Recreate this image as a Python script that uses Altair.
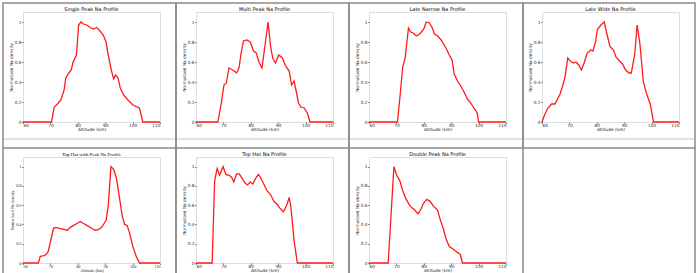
import altair as alt
import pandas as pd

titles = ["Single Peak Na Profile", "Multi Peak Na Profile", "Late Narrow Na Profile",
          "Late Wide Na Profile", "Top Hat with Peak Na Profile", "Top Hat Na Profile",
          "Double Peak Na Profile"]

x_ticks = [60, 70, 80, 90, 100, 110]
y_ticks = [0, 0.2, 0.4, 0.6, 0.8, 1]

alt1 = [60, 70.4, 71.4, 72.6, 73.8, 75.0, 75.6, 76.7, 77.6, 78.3, 79.5, 80.3, 81.2, 82.1, 83.3,
        84.5, 85.7, 86.9, 88.1, 89.3, 90.3, 91.1, 92.3, 93.1, 93.8, 94.7, 95.5, 96.7, 98.3,
        100.1, 102.5, 103.7, 110]
den1 = [0, 0, 0.15, 0.18, 0.22, 0.32, 0.44, 0.49, 0.52, 0.60, 0.67, 0.97, 1.0, 0.98, 0.97,
        0.945, 0.93, 0.945, 0.91, 0.87, 0.80, 0.67, 0.51, 0.43, 0.47, 0.44, 0.34, 0.27, 0.22,
        0.17, 0.14, 0, 0]

alt2 = [60, 68.0, 69.3, 70.2, 71.1, 72.0, 73.0, 74.0, 74.8, 75.7, 76.4, 77.3, 78.5, 79.8, 81.0,
        82.0, 83.1, 84.1, 85.1, 86.3, 87.2, 88.0, 89.0, 90.2, 91.5, 92.7, 94.0, 94.9, 95.8,
        96.7, 97.4, 98.3, 99.5, 100.7, 101.6, 110]
den2 = [0, 0, 0.20, 0.37, 0.39, 0.54, 0.525, 0.51, 0.49, 0.54, 0.68, 0.81, 0.82, 0.80, 0.71,
        0.69, 0.59, 0.54, 0.75, 1.0, 0.76, 0.64, 0.59, 0.67, 0.64, 0.56, 0.51, 0.37, 0.41,
        0.29, 0.19, 0.15, 0.14, 0.085, 0, 0]

alt3 = [60, 70.4, 71.4, 72.3, 73.2, 73.8, 74.4, 75.2, 76.1, 77.3, 78.5, 80.0, 80.9, 82.1, 83.1,
        83.9, 85.1, 86.3, 88.1, 89.3, 90.3, 91.1, 92.3, 93.5, 94.7, 95.9, 97.1, 98.3, 99.5,
        100.0, 110]
den3 = [0, 0, 0.28, 0.55, 0.64, 0.79, 0.94, 0.90, 0.89, 0.86, 0.88, 0.93, 1.0, 0.99, 0.94,
        0.88, 0.86, 0.82, 0.74, 0.67, 0.62, 0.48, 0.41, 0.36, 0.30, 0.23, 0.19, 0.14, 0.09,
        0, 0]

alt4 = [60, 61.0, 62.2, 63.5, 64.7, 65.7, 66.6, 67.4, 68.4, 69.4, 70.3, 71.5, 72.4, 73.4, 74.4,
        75.3, 76.5, 77.7, 78.6, 79.6, 80.2, 81.5, 82.7, 83.6, 84.8, 86.1, 87.0, 88.3, 89.3,
        90.5, 91.8, 92.6, 93.9, 94.7, 95.7, 97.0, 98.2, 99.5, 100.7, 110]
den4 = [0, 0.075, 0.14, 0.18, 0.18, 0.23, 0.28, 0.35, 0.45, 0.64, 0.61, 0.59, 0.60, 0.57, 0.52,
        0.585, 0.69, 0.72, 0.71, 0.81, 0.925, 0.97, 1.0, 0.89, 0.755, 0.72, 0.65, 0.61, 0.585,
        0.52, 0.49, 0.49, 0.69, 0.97, 0.79, 0.40, 0.28, 0.18, 0, 0]

alt5 = [60, 65.6, 66.3, 67.2, 68.4, 69.2, 70.2, 71.1, 72.0, 73.2, 75.0, 76.1, 77.3, 78.5, 79.7,
        80.9, 82.1, 83.3, 85.1, 86.3, 87.5, 88.7, 90.3, 91.1, 92.1, 93.1, 94.1, 95.3, 96.2,
        97.1, 98.0, 98.9, 100.1, 101.3, 102.5, 110]
den5 = [0, 0, 0.07, 0.075, 0.085, 0.12, 0.24, 0.36, 0.37, 0.36, 0.35, 0.34, 0.37, 0.39, 0.41,
        0.43, 0.41, 0.39, 0.36, 0.34, 0.345, 0.37, 0.44, 0.59, 1.0, 0.97, 0.88, 0.66, 0.49,
        0.40, 0.39, 0.31, 0.17, 0.07, 0, 0]

alt6 = [60, 65.9, 66.8, 67.7, 68.6, 69.9, 70.9, 72.1, 73.0, 73.8, 74.8, 75.8, 77.0, 77.9, 78.8,
        79.8, 80.7, 82.0, 82.8, 83.7, 84.9, 85.9, 87.2, 88.4, 89.6, 90.6, 91.9, 93.1, 94.0,
        94.6, 95.8, 97.0, 110]
den6 = [0, 0, 0.85, 0.98, 0.91, 1.0, 0.92, 0.91, 0.89, 0.84, 0.925, 0.925, 0.87, 0.83, 0.81,
        0.84, 0.82, 0.89, 0.92, 0.88, 0.81, 0.75, 0.71, 0.64, 0.61, 0.57, 0.53, 0.60, 0.68,
        0.59, 0.23, 0, 0]

alt7 = [60, 67.0, 69.1, 70.1, 71.3, 72.2, 73.4, 75.0, 76.5, 77.9, 78.9, 79.9, 81.1, 82.3, 83.5,
        85.0, 86.0, 87.2, 88.0, 89.3, 90.9, 92.3, 93.3, 94.1, 110]
den7 = [0, 0, 1.0, 0.91, 0.85, 0.76, 0.67, 0.59, 0.555, 0.51, 0.555, 0.62, 0.66, 0.64, 0.59,
        0.55, 0.45, 0.35, 0.26, 0.17, 0.14, 0.11, 0.09, 0, 0]

series = [(alt1, den1), (alt2, den2), (alt3, den3), (alt4, den4),
          (alt5, den5), (alt6, den6), (alt7, den7)]

# layout (pixels)
W = 137
HEIGHTS = [110, 106]
LEFTS = [22, 195, 368, 541]
TOPS = [11, 156]
XS = [2, 175, 348, 522, 694]
GRID = "#8a8a8a"
LIGHT = "#c4c4c4"

one = pd.DataFrame({"k": [0]})


def panel(i, alts, dens):
    row, col = divmod(i, 4)
    L, T, H = LEFTS[col], TOPS[row], HEIGHTS[row]
    font = "Liberation Serif" if i == 4 else "DejaVu Sans"
    df = pd.DataFrame({"alt": alts, "den": dens})
    common = dict(labelFont=font, titleFont=font, labelFontSize=4.3, titleFontSize=4.3,
                  labelColor="#333333", titleColor="#222222", tickSize=1.5, tickWidth=0.5,
                  tickColor="#000000", grid=False, domain=False, titleFontWeight="normal")
    line = alt.Chart(df).mark_line(color="#ff1a1a", strokeWidth=1.3).encode(
        x=alt.X("alt:Q", scale=alt.Scale(domain=[60, 110], nice=False, zero=False),
                axis=alt.Axis(values=x_ticks, title="Altitude (km)", format="d",
                              labelPadding=0, titlePadding=0, **common)),
        y=alt.Y("den:Q", scale=alt.Scale(domain=[0, 1.1], nice=False),
                axis=alt.Axis(values=y_ticks, title="Normalized Na density", format="~g",
                              labelPadding=0.5, titlePadding=1, **common)),
    )
    layers = []
    if i == 0:
        layers.append(alt.Chart(one).mark_rect(fill="white", opacity=0).encode(
            x=alt.value(-L), x2=alt.value(-L + 1), y=alt.value(-T), y2=alt.value(-T + 1)))
    if row == 0:
        layers.append(alt.Chart(one).mark_rect(fillOpacity=0, stroke=GRID, strokeWidth=1.5).encode(
            x=alt.value(XS[col] - L), x2=alt.value(XS[col + 1] - L),
            y=alt.value(2 - T), y2=alt.value(147 - T)))
        layers.append(alt.Chart(one).mark_rule(color=LIGHT, strokeWidth=1).encode(
            x=alt.value(XS[col] + 1 - L), x2=alt.value(XS[col + 1] - 1 - L),
            y=alt.value(138 - T)))
    else:
        xs = [XS[col], XS[col + 1]] + ([XS[4]] if col == 2 else [])
        for xb in xs:
            layers.append(alt.Chart(one).mark_rule(color=GRID, strokeWidth=1.5).encode(
                x=alt.value(xb - L), y=alt.value(147 - T), y2=alt.value(273 - T)))
    layers.append(line)
    layers.append(alt.Chart(one).mark_text(font=font, fontSize=5, color="#000000",
                                           baseline="middle", align="center").encode(
        x=alt.value(W / 2), y=alt.value(-3), text=alt.value(titles[i])))
    return alt.layer(*layers).properties(width=W, height=H)


panels = [panel(i, a, d) for i, (a, d) in enumerate(series)]

chart = alt.concat(*panels, columns=4, spacing={"row": 35, "column": 36},
                   bounds="flush").properties(padding=0).configure_view(
    stroke="#000000", strokeWidth=0.6).configure(background="white")

chart.save("out.html", embed_options={"renderer": "svg", "actions": False})
